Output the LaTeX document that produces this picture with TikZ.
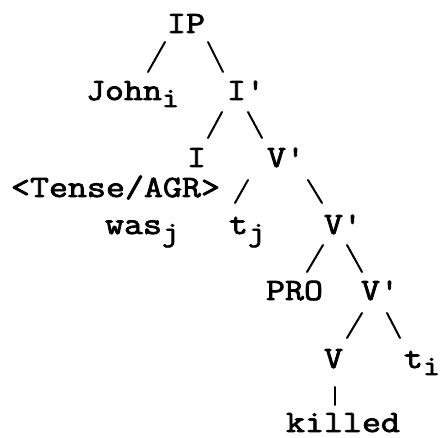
\documentclass[tikz,border=0pt]{standalone}
\usepackage{fontspec}
\usetikzlibrary{calc}
\newfontfamily\treefont{Latin Modern Mono}[FakeStretch=1.19,FakeBold=2.5]
\newcommand{\sub}[1]{\raisebox{-7pt}{\fontsize{28}{28}\selectfont #1}}
\begin{document}
\begin{tikzpicture}[x=1pt,y=-1pt,
  lbl/.style={anchor=base west, inner sep=0pt, outer sep=0pt,
    font=\treefont\fontsize{31}{31}\selectfont},
  branch/.style={line width=2pt, line cap=round}]
\useasboundingbox (0,0) rectangle (440,438);
% labels
\node[lbl] (ip)     at (167,33)  {IP};
\node[lbl] (john)   at (86,100)  {John\sub{i}};
\node[lbl] (ibar)   at (227,100) {I'};
\node[lbl] (i)      at (187,167) {I};
\node[lbl] (vbara)  at (267,167) {V'};
\node[lbl] (tense)  at (11,197)  {<Tense/AGR>};
\node[lbl] (was)    at (105,234) {was\sub{j}};
\node[lbl] (tj)     at (229,234) {t\sub{j}};
\node[lbl] (vbarb)  at (324,234) {V'};
\node[lbl] (pro)    at (266,300) {PRO};
\node[lbl] (vbarc)  at (361,300) {V'};
\node[lbl] (v)      at (324,368) {V};
\node[lbl] (ti)     at (404,368) {t\sub{i}};
\node[lbl] (killed) at (286,432) {killed};
% branches
\draw[branch] ($(ip.base west)+(-2,9)$)    -- ($(john.base west)+(62,-28)$);
\draw[branch] ($(ip.base west)+(41,9)$)    -- ($(ibar.base west)+(-4,-28)$);
\draw[branch] ($(ibar.base west)+(-5,12)$) -- ($(i.base west)+(21,-29)$);
\draw[branch] ($(ibar.base west)+(21,12)$) -- ($(vbara.base west)+(-5,-29)$);
\draw[branch] ($(vbara.base west)+(-19,13)$) -- ($(tj.base west)+(6,-31)$);
\draw[branch] ($(vbara.base west)+(41,13)$)  -- ($(vbarb.base west)+(-2,-31)$);
\draw[branch] ($(vbarb.base west)+(-1,11)$)  -- ($(pro.base west)+(41,-28)$);
\draw[branch] ($(vbarb.base west)+(23,11)$)  -- ($(vbarc.base west)+(1,-28)$);
\draw[branch] ($(vbarc.base west)+(1,13)$)   -- ($(v.base west)+(23,-30)$);
\draw[branch] ($(vbarc.base west)+(26,13)$)  -- ($(ti.base west)+(-4,-30)$);
\draw[branch] ($(v.base west)+(11,19)$)      -- ($(killed.base west)+(49,-27)$);
\end{tikzpicture}
\end{document}
